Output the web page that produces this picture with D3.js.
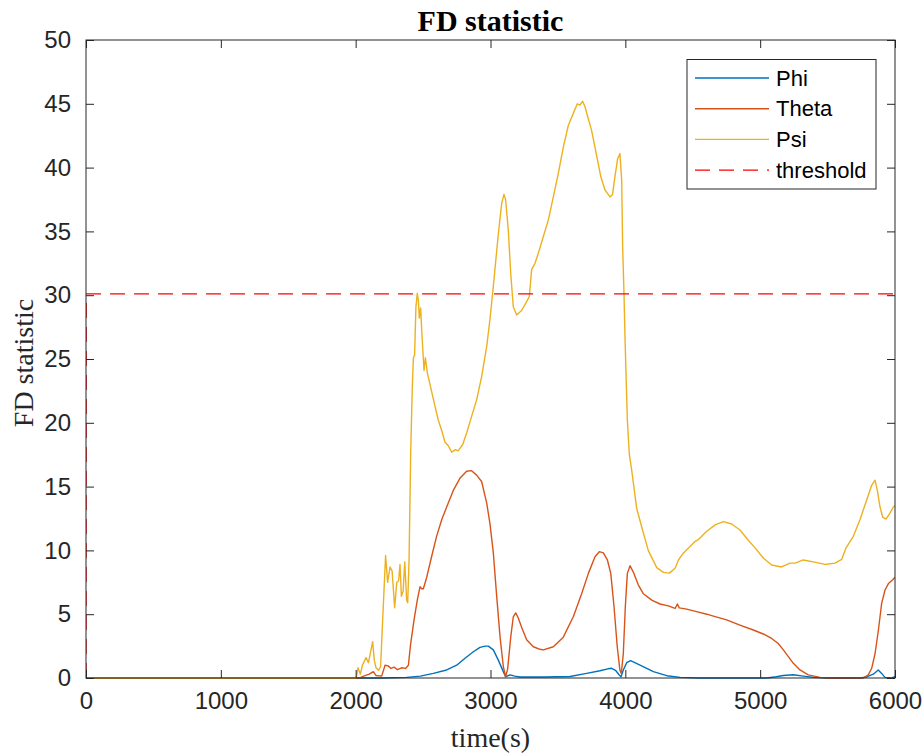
<!DOCTYPE html>
<html>
<head>
<meta charset="utf-8">
<script src="https://cdn.jsdelivr.net/npm/d3@7"></script>
<style>
  html, body { margin: 0; padding: 0; background: #fff; }
  svg { display: block; }
</style>
</head>
<body>
<div id="chart"></div>
<script>
// FD statistic per angle channel, sampled as [time (s), value]
const phi = [
  [0,0],[2200,0],[2378,0.05],[2480,0.15],[2576,0.36],[2675,0.63],[2749,1.0],[2811,1.55],
  [2873,2.06],[2922,2.4],[2960,2.5],[2984,2.5],[3021,2.2],[3058,1.4],[3095,0.5],[3112,0.1],
  [3145,0.24],[3180,0.15],[3219,0.08],[3400,0.08],[3590,0.12],[3713,0.36],[3812,0.57],
  [3870,0.72],[3899,0.76],[3930,0.57],[3955,0.24],[3968,0.1],[3985,0.63],[4010,1.2],
  [4039,1.36],[4109,1.0],[4208,0.5],[4307,0.18],[4406,0.05],[4550,0],[5050,0],[5120,0.1],
  [5172,0.2],[5246,0.26],[5320,0.15],[5400,0.05],[5500,0],[5740,0],[5790,0.08],[5839,0.3],
  [5876,0.63],[5901,0.36],[5926,0.05],[5975,0],[6000,0.1]
];

const theta = [
  [0,0],[2030,0],[2060,0.15],[2100,0.3],[2131,0.5],[2150,0.2],[2193,0.15],[2218,1.0],
  [2240,0.95],[2262,0.75],[2285,0.85],[2310,0.65],[2340,0.8],[2370,0.75],[2391,1.0],
  [2408,2.7],[2433,4.55],[2457,6.1],[2477,7.15],[2490,7.0],[2502,7.0],[2527,7.9],[2563,9.5],
  [2600,11.1],[2638,12.4],[2675,13.4],[2724,14.7],[2773,15.65],[2823,16.2],[2860,16.25],
  [2897,15.9],[2934,15.4],[2972,13.7],[2996,12.1],[3021,9.8],[3046,6.4],[3071,3.2],
  [3095,0.9],[3112,0.1],[3127,0.7],[3150,3.2],[3169,4.8],[3187,5.1],[3206,4.7],[3230,4.0],
  [3268,3.0],[3318,2.45],[3367,2.25],[3392,2.2],[3466,2.45],[3540,3.2],[3614,4.8],[3676,6.6],
  [3726,8.2],[3775,9.5],[3807,9.9],[3837,9.8],[3867,9.25],[3892,8.2],[3916,5.6],[3940,2.45],
  [3960,0.6],[3970,0.35],[3985,1.9],[4000,5.6],[4015,8.2],[4035,8.8],[4059,8.3],[4096,7.3],
  [4134,6.6],[4196,6.1],[4257,5.8],[4319,5.65],[4369,5.45],[4386,5.8],[4400,5.5],[4455,5.4],
  [4529,5.2],[4604,5.0],[4653,4.85],[4751,4.55],[4850,4.15],[4949,3.76],[5023,3.45],
  [5085,3.1],[5134,2.7],[5172,2.2],[5209,1.67],[5246,1.15],[5295,0.63],[5357,0.24],
  [5444,0.05],[5500,0],[5765,0],[5802,0.24],[5827,0.76],[5852,1.9],[5877,3.76],[5901,5.85],
  [5926,6.9],[5951,7.4],[5983,7.7],[6000,7.9]
];

const psi = [
  [0,0],[2000,0],[2008,0.2],[2017,0.8],[2035,0.3],[2050,1.0],[2077,1.6],[2095,1.2],
  [2110,2.0],[2126,2.85],[2138,1.4],[2151,0.8],[2170,0.6],[2185,0.9],[2200,4.5],[2222,9.6],
  [2237,7.5],[2255,8.7],[2270,8.4],[2280,6.9],[2289,5.5],[2305,7.5],[2318,7.6],[2329,8.9],
  [2339,6.4],[2352,6.8],[2364,9.1],[2378,6.1],[2386,5.9],[2396,9.25],[2408,17.6],[2420,22.8],
  [2428,25.1],[2437,25.3],[2447,29.1],[2457,30.15],[2465,29.6],[2472,28.2],[2482,29.0],
  [2492,26.8],[2507,24.1],[2517,25.1],[2532,23.9],[2556,22.8],[2588,21.3],[2613,20.2],
  [2638,19.4],[2662,18.5],[2687,18.2],[2712,17.7],[2740,17.9],[2760,17.8],[2794,18.3],
  [2823,19.2],[2860,20.5],[2897,21.8],[2934,23.6],[2972,26.0],[2996,28.1],[3021,30.7],
  [3058,34.8],[3083,37.2],[3100,37.9],[3112,37.5],[3132,35.1],[3150,31.7],[3169,29.1],
  [3194,28.45],[3231,28.8],[3268,29.5],[3288,29.9],[3305,32.0],[3330,32.5],[3355,33.3],
  [3392,34.6],[3429,35.9],[3466,37.7],[3503,39.55],[3540,41.6],[3577,43.3],[3614,44.25],
  [3644,45.0],[3663,44.9],[3683,45.2],[3700,44.8],[3718,44.1],[3750,42.9],[3788,40.9],
  [3818,39.3],[3849,38.25],[3886,37.7],[3905,37.9],[3923,39.3],[3943,40.7],[3960,41.1],
  [3973,39.0],[3980,33.8],[3990,30.15],[3998,26.5],[4015,20.2],[4030,17.5],[4047,16.3],
  [4084,13.3],[4121,11.85],[4170,10.0],[4233,8.65],[4282,8.28],[4327,8.22],[4369,8.6],
  [4394,9.25],[4431,9.8],[4480,10.3],[4517,10.7],[4542,10.85],[4604,11.5],[4666,12.0],
  [4727,12.25],[4789,12.07],[4850,11.6],[4912,10.8],[4962,10.2],[5023,9.4],[5085,8.86],
  [5159,8.7],[5221,9.0],[5260,9.0],[5320,9.25],[5394,9.1],[5481,8.9],[5555,9.0],[5605,9.3],
  [5637,10.2],[5691,11.1],[5740,12.4],[5790,13.95],[5827,15.1],[5852,15.5],[5869,14.7],
  [5889,13.4],[5909,12.6],[5933,12.45],[5958,12.85],[5988,13.4],[6000,13.5]
];

const threshold = [[0,0],[1,30.1],[6000,30.1]];

const xTicks = [0, 1000, 2000, 3000, 4000, 5000, 6000];
const yTicks = [0, 5, 10, 15, 20, 25, 30, 35, 40, 45, 50];

const seriesNames = ["Phi", "Theta", "Psi", "threshold"];
const seriesData = [phi, theta, psi, threshold];
const seriesColors = ["#0072BD", "#D95319", "#EDB120", "#FF0000"];
const seriesDash = [null, null, null, "15,9"];

const W = 924, H = 755;
const plot = { left: 86, right: 895, top: 40, bottom: 678 };
const axisColor = "#262626";
const sans = "Arial, 'Liberation Sans', Helvetica, sans-serif";
const serif = "'Times New Roman', 'Liberation Serif', serif";

const svg = d3.select("#chart").append("svg")
  .attr("width", W).attr("height", H);

const x = d3.scaleLinear().domain([0, 6000]).range([plot.left, plot.right]);
const y = d3.scaleLinear().domain([0, 50]).range([plot.bottom, plot.top]);

svg.append("defs").append("clipPath").attr("id", "plot-clip")
  .append("rect")
  .attr("x", plot.left).attr("y", plot.top - 1)
  .attr("width", plot.right - plot.left).attr("height", plot.bottom - plot.top + 2);

// Series lines
const line = d3.line().x(d => x(d[0])).y(d => y(d[1]));
const gLines = svg.append("g").attr("clip-path", "url(#plot-clip)");
seriesData.forEach((data, i) => {
  gLines.append("path")
    .datum(data)
    .attr("d", line)
    .attr("fill", "none")
    .attr("stroke", seriesColors[i])
    .attr("stroke-width", 1.4)
    .attr("stroke-linejoin", "round")
    .attr("stroke-dasharray", seriesDash[i]);
});

// Axes: ticks pointing inward, mirrored on top and right
const tickLen = 8;
function styleAxis(g) {
  g.select(".domain").remove();
  g.selectAll(".tick line").attr("stroke", axisColor).attr("stroke-width", 1);
  g.selectAll(".tick text")
    .attr("fill", axisColor)
    .style("font-family", sans)
    .style("font-size", "24px");
}

svg.append("g")
  .attr("transform", `translate(0,${plot.bottom})`)
  .call(d3.axisBottom(x).tickValues(xTicks).tickFormat(d3.format("d"))
    .tickSizeInner(-tickLen).tickSizeOuter(0).tickPadding(14))
  .call(styleAxis);

svg.append("g")
  .attr("transform", `translate(0,${plot.top})`)
  .call(d3.axisTop(x).tickValues(xTicks).tickFormat("")
    .tickSizeInner(-tickLen).tickSizeOuter(0))
  .call(styleAxis);

svg.append("g")
  .attr("transform", `translate(${plot.left},0)`)
  .call(d3.axisLeft(y).tickValues(yTicks).tickFormat(d3.format("d"))
    .tickSizeInner(-tickLen).tickSizeOuter(0).tickPadding(15))
  .call(styleAxis);

svg.append("g")
  .attr("transform", `translate(${plot.right},0)`)
  .call(d3.axisRight(y).tickValues(yTicks).tickFormat("")
    .tickSizeInner(-tickLen).tickSizeOuter(0))
  .call(styleAxis);

// Axes box
svg.append("rect")
  .attr("x", plot.left).attr("y", plot.top)
  .attr("width", plot.right - plot.left).attr("height", plot.bottom - plot.top)
  .attr("fill", "none").attr("stroke", axisColor).attr("stroke-width", 1);

// Title and axis labels
svg.append("text")
  .attr("x", (plot.left + plot.right) / 2).attr("y", 31)
  .attr("text-anchor", "middle")
  .style("font-family", serif).style("font-weight", "bold").style("font-size", "30px")
  .attr("fill", "#000")
  .text("FD statistic");

svg.append("text")
  .attr("x", (plot.left + plot.right) / 2).attr("y", 747)
  .attr("text-anchor", "middle")
  .style("font-family", serif).style("font-size", "28px")
  .attr("fill", axisColor)
  .text("time(s)");

svg.append("text")
  .attr("transform", `translate(33,${(plot.top + plot.bottom) / 2 + 4}) rotate(-90)`)
  .attr("text-anchor", "middle")
  .style("font-family", serif).style("font-size", "28px")
  .attr("fill", axisColor)
  .text("FD statistic");

// Legend
const legend = svg.append("g");
legend.append("rect")
  .attr("x", 687).attr("y", 59.5)
  .attr("width", 189).attr("height", 129.5)
  .attr("fill", "#fff").attr("stroke", axisColor).attr("stroke-width", 1);

seriesNames.forEach((name, i) => {
  const ly = 78 + i * 30.7;
  legend.append("line")
    .attr("x1", 695).attr("x2", 769)
    .attr("y1", ly).attr("y2", ly)
    .attr("stroke", seriesColors[i])
    .attr("stroke-width", 1.4)
    .attr("stroke-dasharray", seriesDash[i]);
  legend.append("text")
    .attr("x", 776).attr("y", ly)
    .attr("dy", "0.35em")
    .style("font-family", sans).style("font-size", "22px")
    .attr("fill", "#000")
    .text(name);
});
</script>
</body>
</html>
